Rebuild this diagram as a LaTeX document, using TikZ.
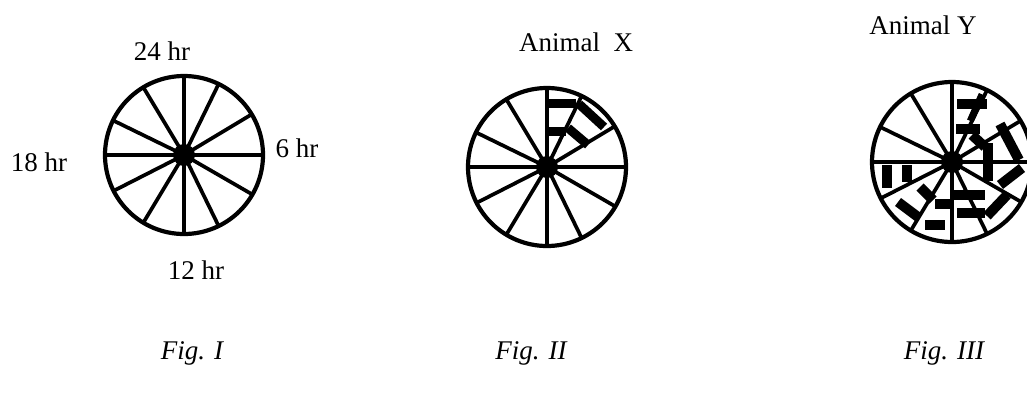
\documentclass[tikz,border=0pt]{standalone}
\usepackage{fontspec}
\setmainfont{Liberation Serif}

\tikzset{
  rim/.style={line width=4.2pt},
  spoke/.style={line width=3.7pt},
  axis/.style={line width=4.5pt},
  hub/.style={circle, fill, inner sep=0pt, minimum size=22pt},
  barx/.style={line width=9pt},
  bary/.style={line width=10pt},
  lbl/.style={font=\fontsize{27}{30}\selectfont, inner sep=0pt},
  figcap/.style={font=\fontsize{27}{30}\selectfont\itshape, inner sep=0pt}
}

\begin{document}
\begin{tikzpicture}[x=1pt,y=1pt]
   \useasboundingbox (0,0) rectangle (1027,-392);
   % Fig. I
   \begin{scope}[shift={(184,-155)}]
      \draw[rim] (0,0) circle (79);
      \draw[axis] (-79,0) -- (79,0) (0,79) -- (0,-79);
      \foreach \a in {31,64,121,154,207,239,296,330}
         \draw[spoke] (0,0) -- (\a:79);
      \node[hub] (hubi) at (0,0) {};
   \end{scope}
   \node[lbl] (t24) at (162,-51) {24 hr};
   \node[lbl] (t18) at (39,-162) {18 hr};
   \node[lbl] (t6)  at (297,-148) {6 hr};
   \node[lbl] (t12) at (196,-270) {12 hr};
   % Fig. II
   \begin{scope}[shift={(547,-167)}]
      \draw[rim] (0,0) circle (79);
      \draw[axis] (-79,0) -- (79,0) (0,79) -- (0,-79);
      \foreach \a in {31,64,121,154,207,239,296,330}
         \draw[spoke] (0,0) -- (\a:79);
      \draw[barx] (2,64) -- (29,64);
      \draw[barx] (2,36) -- (19,36);
      \draw[barx] (32,63) -- (57,40);
      \draw[barx] (21,39) -- (41,22);
      \node[hub] (hubii) at (0,0) {};
   \end{scope}
   \node[lbl] (animalx) at (576,-42) {Animal\ \ X};
   % Fig. III
   \begin{scope}[shift={(952,-162)}]
      \draw[rim] (0,0) circle (80);
      \draw[axis] (-80,0) -- (80,0) (0,80) -- (0,-80);
      \foreach \a in {31,64,121,154,207,239,296,330}
         \draw[spoke] (0,0) -- (\a:80);
      \draw[bary] (5,58) -- (35,58);
      \draw[bary] (4,33.5) -- (28,33.5);
      \draw[line width=7pt] (66:45) -- (66:74);
      \draw[bary] (20,27) -- (33,15);
      \draw[bary] (36,19) -- (36,-19);
      \draw[bary] (48,38) -- (67,2);
      \draw[bary] (48,-23) -- (70,-6);
      \draw[bary] (35,-54) -- (55,-33);
      \draw[bary] (1,-33) -- (33,-33);
      \draw[bary] (-17,-42) -- (1,-42);
      \draw[bary] (5,-51) -- (33,-51);
      \draw[bary] (-27,-63) -- (-7,-63);
      \draw[bary] (-65,-3) -- (-65,-26);
      \draw[bary] (-45,-3) -- (-45,-20);
      \draw[bary] (-54,-40) -- (-34,-55);
      \draw[bary] (-32,-25) -- (-19,-38);
      \node[hub] (hubiii) at (0,0) {};
   \end{scope}
   \node[lbl] (animaly) at (923,-25) {Animal Y};
   % captions
   \node[figcap] (figi)   at (192,-353) {Fig. I};
   \node[figcap] (figii)  at (531,-353) {Fig. II};
   \node[figcap] (figiii) at (944,-353) {Fig. III};
\end{tikzpicture}
\end{document}
